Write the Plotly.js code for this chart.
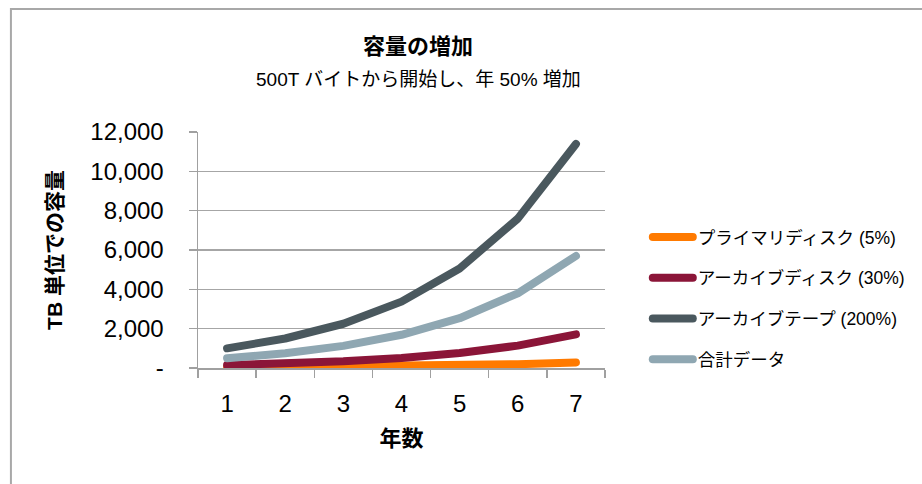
<!DOCTYPE html>
<html>
<head>
<meta charset="utf-8">
<script src="https://cdn.plot.ly/plotly-3.0.1.min.js"></script>
<style>
html,body{margin:0;padding:0;background:#fff;}
#chart{width:922px;height:484px;}
.scatterlayer path.js-line{stroke-linecap:round;stroke-linejoin:round;}
.legend path.js-line{stroke-linecap:round;}
</style>
</head>
<body>
<div id="chart"></div>
<script>
const years = ["1", "2", "3", "4", "5", "6", "7"];
const seriesNames = ["プライマリディスク (5%)", "アーカイブディスク (30%)", "アーカイブテープ (200%)", "合計データ"];
const primaryDisk = [25, 38, 56, 84, 127, 190, 285];
const archiveDisk = [150, 225, 338, 506, 759, 1139, 1709];
const archiveTape = [1000, 1500, 2250, 3375, 5063, 7594, 11391];
const totalData = [500, 750, 1125, 1688, 2531, 3797, 5695];
const yTickVals = [0, 2000, 4000, 6000, 8000, 10000, 12000];
const yTickText = ["-", "2,000", "4,000", "6,000", "8,000", "10,000", "12,000"];
const colors = ["#FF7A00", "#8B1538", "#4A585E", "#8FA7B2"];

const FONT = "'Liberation Sans', Arial, 'Noto Sans CJK JP', sans-serif";
const allSeries = [primaryDisk, archiveDisk, archiveTape, totalData];

const traces = allSeries.map((vals, i) => ({
  type: "scatter",
  mode: "lines",
  x: years,
  y: vals,
  name: seriesNames[i],
  legendgroup: "g" + i,
  line: {color: colors[i], width: 8},
  hoverinfo: "skip"
}));

const layout = {
  width: 922,
  height: 484,
  margin: {l: 198, r: 315, t: 132, b: 116},
  paper_bgcolor: "#ffffff",
  plot_bgcolor: "#ffffff",
  font: {family: FONT, color: "#000"},
  showlegend: true,
  title: {
    text: "<b>容量の増加</b>",
    font: {size: 22, family: FONT, color: "#000"},
    x: 418 / 922, xanchor: "center", xref: "container",
    y: 1 - 46 / 484, yanchor: "middle", yref: "container"
  },
  annotations: [{
    text: "500T バイトから開始し、年 50% 増加",
    xref: "paper", yref: "paper",
    x: (420 - 198) / 409, y: (368 - 80) / 236,
    xanchor: "center", yanchor: "middle",
    showarrow: false,
    font: {size: 19, family: FONT, color: "#000"}
  }],
  xaxis: {
    type: "category",
    range: [-0.5, 6.5],
    tickson: "boundaries",
    ticks: "outside",
    ticklen: 8,
    tickwidth: 1.5,
    tickcolor: "#a0a0a0",
    showgrid: false,
    showline: true,
    linecolor: "#a0a0a0",
    linewidth: 1.5,
    tickfont: {size: 24, family: FONT, color: "#000"},
    ticklabelstandoff: 14,
    title: {text: "<b>年数</b>", font: {size: 22, family: FONT, color: "#000"}, standoff: 14},
    fixedrange: true
  },
  yaxis: {
    range: [0, 12000],
    tickvals: yTickVals,
    ticktext: yTickText,
    ticks: "outside",
    ticklen: 8,
    tickwidth: 1.5,
    tickcolor: "#a0a0a0",
    showgrid: true,
    gridcolor: "#a6a6a6",
    gridwidth: 1.5,
    showline: true,
    linecolor: "#a0a0a0",
    linewidth: 1.5,
    zeroline: false,
    tickfont: {size: 24, family: FONT, color: "#000"},
    ticklabelstandoff: 20,
    title: {text: "<b>TB 単位での容量</b>", font: {size: 21, family: FONT, color: "#000"}, standoff: 22},
    fixedrange: true
  },
  legend: {
    x: (650 - 198) / 409 , xanchor: "left",
    y: (368 - 298) / 236, yanchor: "middle",
    font: {size: 17.5, family: FONT, color: "#000"},
    tracegroupgap: 15,
    itemwidth: 40,
    bgcolor: "rgba(0,0,0,0)"
  },
  shapes: [{
    type: "rect", xref: "paper", yref: "paper",
    x0: (10 - 198) / 409, x1: 2,
    y0: -1, y1: (368 - 9) / 236,
    line: {color: "#a8a8a8", width: 2},
    fillcolor: "rgba(0,0,0,0)",
    layer: "below"
  }]
};

Plotly.newPlot("chart", traces, layout, {displayModeBar: false, staticPlot: true});
</script>
</body>
</html>
